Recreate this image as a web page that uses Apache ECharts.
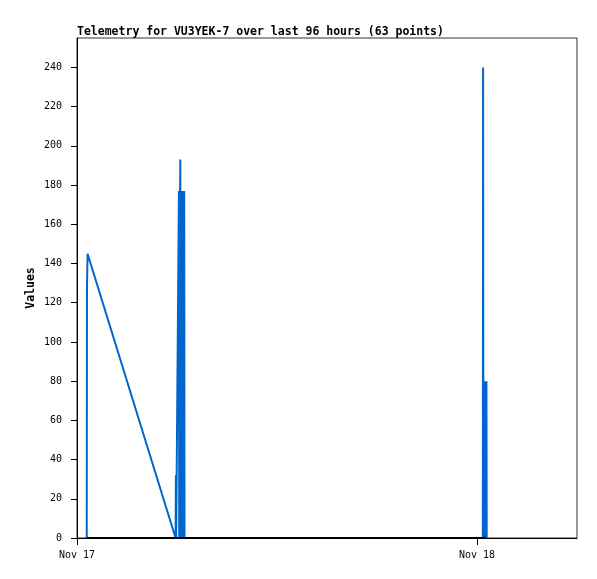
<!DOCTYPE html>
<html>
<head>
<meta charset="utf-8">
<script src="https://cdn.jsdelivr.net/npm/echarts@6/dist/echarts.min.js"></script>
<style>
html,body{margin:0;padding:0;background:#fff;}
#chart{width:597px;height:579px;}
</style>
</head>
<body>
<div id="chart"></div>
<script>
const titleText = 'Telemetry for VU3YEK-7 over last 96 hours (63 points)';
const times = [
  '2023-11-17T00:35Z','2023-11-17T00:36Z','2023-11-17T00:38Z',
  '2023-11-17T05:55Z','2023-11-17T05:56Z','2023-11-17T05:57Z',
  '2023-11-17T06:07Z','2023-11-17T06:08Z','2023-11-17T06:09Z','2023-11-17T06:10Z',
  '2023-11-17T06:11Z','2023-11-17T06:12Z','2023-11-17T06:13Z','2023-11-17T06:14Z',
  '2023-11-17T06:15Z','2023-11-17T06:16Z','2023-11-17T06:17Z','2023-11-17T06:18Z',
  '2023-11-17T06:19Z','2023-11-17T06:20Z','2023-11-17T06:21Z','2023-11-17T06:22Z',
  '2023-11-17T06:23Z','2023-11-17T06:24Z','2023-11-17T06:25Z','2023-11-17T06:26Z',
  '2023-11-17T06:27Z',
  '2023-11-18T00:21Z','2023-11-18T00:22Z','2023-11-18T00:23Z','2023-11-18T00:24Z',
  '2023-11-18T00:25Z','2023-11-18T00:26Z','2023-11-18T00:27Z','2023-11-18T00:28Z',
  '2023-11-18T00:29Z','2023-11-18T00:30Z','2023-11-18T00:31Z','2023-11-18T00:32Z',
  '2023-11-18T00:33Z','2023-11-18T00:34Z','2023-11-18T00:35Z'
];
const blueValues = [
  0,128,145,
  0,32,0,
  177,0,177,0,
  177,193,0,177,
  0,177,0,177,
  0,177,0,177,
  0,177,0,177,
  0,
  0,240,0,80,
  0,80,0,80,
  0,80,0,80,
  0,80,0
];
const blackValues = [
  0,0,0,
  0,0,0,
  0,0,0,0,
  0,0,0,0,
  0,0,0,0,
  0,0,0,0,
  0,0,0,0,
  0,
  0,0,0,0,
  0,0,0,0,
  0,0,0,0,
  0,0,0
];
const xTickDates = ['2023-11-17T00:00Z','2023-11-18T00:00Z'];
const xRange = ['2023-11-17T00:00Z','2023-11-18T06:00Z'];
const yTicks = [0,20,40,60,80,100,120,140,160,180,200,220,240];
const yMax = 255;
const months = ['Jan','Feb','Mar','Apr','May','Jun','Jul','Aug','Sep','Oct','Nov','Dec'];

const font = 'DejaVu Sans Mono';
const toMs = s => Date.parse(s);
const blueData = times.map((t,i)=>[toMs(t), blueValues[i]]);
const blackData = times.map((t,i)=>[toMs(t), blackValues[i]]);

const chart = echarts.init(document.getElementById('chart'), null, {renderer:'canvas'});
chart.setOption({
  animation:false,
  backgroundColor:'#fff',
  title:{
    text:titleText, left:72, top:21,
    textStyle:{fontFamily:font, fontSize:11.5, fontWeight:'bold', color:'#000'}
  },
  grid:{left:77, top:38, width:500, height:500, show:true, borderColor:'#333', borderWidth:1, backgroundColor:'#fff'},
  xAxis:{
    type:'value',
    min:toMs(xRange[0]), max:toMs(xRange[1]),
    axisLine:{show:true, lineStyle:{color:'#000', width:1}},
    axisTick:{show:true, length:7, lineStyle:{color:'#000'}, customValues:xTickDates.map(toMs)},
    axisLabel:{
      customValues:xTickDates.map(toMs),
      margin:12, color:'#000', fontFamily:font, fontSize:10,
      formatter:v=>{const d=new Date(v);return months[d.getUTCMonth()]+' '+d.getUTCDate();}
    },
    splitLine:{show:false}
  },
  yAxis:{
    type:'value', min:0, max:yMax,
    name:'Values', nameLocation:'middle', nameGap:40, nameMoveOverlap:false,
    nameTextStyle:{fontFamily:font, fontSize:11.5, fontWeight:'bold', color:'#000'},
    axisLine:{show:true, lineStyle:{color:'#000', width:1}},
    axisTick:{show:true, length:6, lineStyle:{color:'#000'}, customValues:yTicks},
    axisLabel:{customValues:yTicks, margin:15, color:'#000', fontFamily:font, fontSize:10},
    splitLine:{show:false}
  },
  series:[
    {type:'line', data:blueData, symbol:'none', showSymbol:false, lineStyle:{color:'#0066cc', width:2}, z:2},
    {type:'line', data:blackData, symbol:'none', showSymbol:false, lineStyle:{color:'#000', width:2}, z:3}
  ]
});
</script>
</body>
</html>
